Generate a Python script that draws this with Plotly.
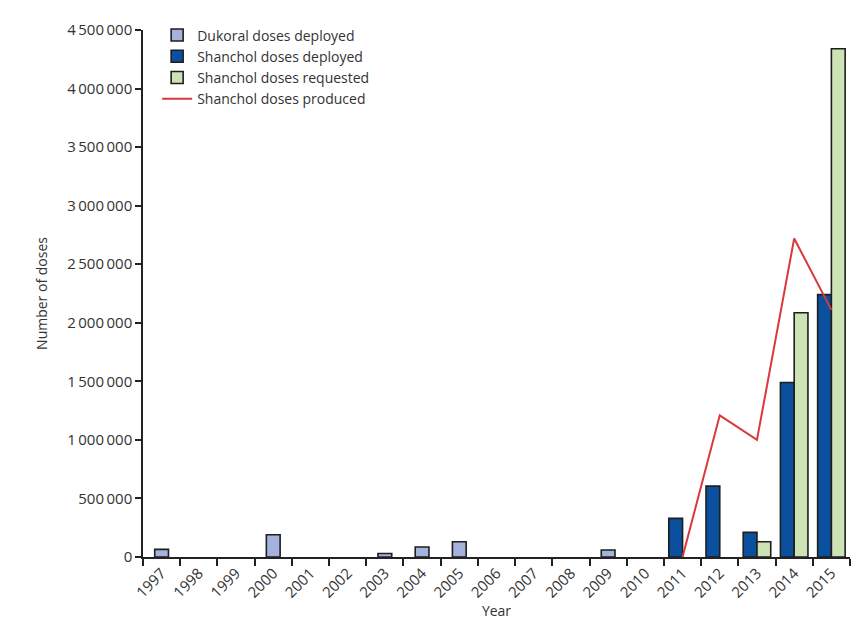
import plotly.graph_objects as go

years = [str(y) for y in range(1997, 2016)]

dukoral_deployed = [65000, None, None, 190000, None, None, 30000, 85000, 130000,
                    None, None, None, 60000, None, None, None, None, None, None]
shanchol_deployed = [None] * 14 + [330000, 605000, 210000, 1490000, 2240000]
shanchol_requested = [None] * 16 + [130000, 2085000, 4340000]
produced_years = ["2011", "2012", "2013", "2014", "2015"]
shanchol_produced = [0, 1210000, 1000000, 2720000, 2110000]

y_tick_vals = [0, 500000, 1000000, 1500000, 2000000, 2500000, 3000000, 3500000, 4000000, 4500000]


def fmt(v):
    return f"{v:,}".replace(",", "\u2009")


y_tick_text = [fmt(v) for v in y_tick_vals]

FONT = "Open Sans"
TXT = "#333333"
EDGE = "#1e1e1e"

fig = go.Figure()
fig.add_trace(go.Bar(
    x=years, y=dukoral_deployed, name="Dukoral doses deployed",
    marker=dict(color="#a4b2dd", line=dict(color=EDGE, width=1.6)),
    width=0.37, offset=-0.185,
))
fig.add_trace(go.Bar(
    x=years, y=shanchol_deployed, name="Shanchol doses deployed",
    marker=dict(color="#0b4f9f", line=dict(color=EDGE, width=1.6)),
    width=0.37, offset=-0.37,
))
fig.add_trace(go.Bar(
    x=years, y=shanchol_requested, name="Shanchol doses requested",
    marker=dict(color="#cde3b6", line=dict(color=EDGE, width=1.6)),
    width=0.37, offset=0.0,
))
fig.add_trace(go.Scatter(
    x=produced_years, y=shanchol_produced, name="Shanchol doses produced",
    mode="lines", line=dict(color="#d9393b", width=2),
))

fig.update_layout(
    width=843, height=612,
    margin=dict(l=135, r=1, t=22, b=63),
    paper_bgcolor="white", plot_bgcolor="white",
    barmode="overlay",
    font=dict(family=FONT, size=14, color=TXT),
    showlegend=True,
    legend=dict(x=0.02, y=1.02, xanchor="left", yanchor="top",
                bgcolor="rgba(0,0,0,0)", font=dict(size=14, color=TXT),
                tracegroupgap=0, itemwidth=30),
    xaxis=dict(
        type="category", categoryorder="array", categoryarray=years,
        range=[-0.5, 18.5],
        tickson="boundaries", ticks="outside", ticklen=7, tickwidth=1.5,
        tickcolor="#222", tickangle=-45,
        showline=True, linecolor="#222", linewidth=1.5,
        showgrid=False, zeroline=False,
        title=dict(text="Year", font=dict(size=14, color=TXT), standoff=6),
        tickfont=dict(size=15, color=TXT),
    ),
    yaxis=dict(
        range=[0, 4500000],
        tickvals=y_tick_vals, ticktext=y_tick_text,
        ticks="outside", ticklen=6, tickwidth=1.5, tickcolor="#222",
        showline=True, linecolor="#222", linewidth=1.5,
        showgrid=False, zeroline=False,
        title=dict(text="Number of doses", font=dict(size=14, color=TXT), standoff=16),
        tickfont=dict(size=15, color=TXT),
    ),
)

fig.write_html("out.html")
